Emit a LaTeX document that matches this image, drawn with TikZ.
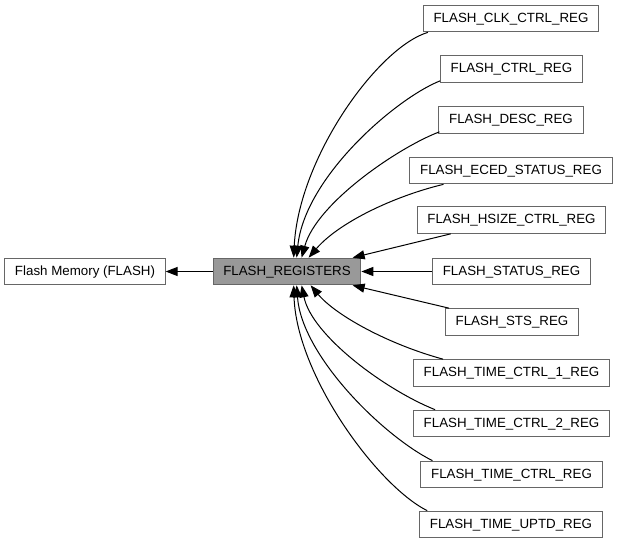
\documentclass[tikz,border=0pt]{standalone}
\usepackage{fontspec}
\setmainfont{Liberation Sans}
\usetikzlibrary{arrows.meta,calc}
\definecolor{frame}{HTML}{666666}
\definecolor{mainfill}{HTML}{999999}
\tikzset{>={Triangle[length=9pt,width=6.8pt]},line width=.75pt,
  every node/.style={font=\fontsize{10pt}{12pt}\selectfont},
  box/.style={draw=frame,fill=white,line width=.75pt,inner xsep=7.6pt,minimum height=20pt,text depth=.3ex},
  group/.style={box,fill=mainfill},
  dep/.style={->,draw=black,line width=.75pt}}
\begin{document}
\begin{tikzpicture}[x=.75pt,y=-.75pt]
\useasboundingbox(0,0)rectangle(619,544);
\node[box](fm)at(85,271.5){Flash Memory (FLASH)};
\node[group](reg)at(287,271.5){FLASH\_REGISTERS};
\node[box](clk)at(511,18.5){FLASH\_CLK\_CTRL\_REG};
\node[box](ctrl)at(511.5,69){FLASH\_CTRL\_REG};
\node[box](desc)at(511,120){FLASH\_DESC\_REG};
\node[box](eced)at(511,170.5){FLASH\_ECED\_STATUS\_REG};
\node[box](hsize)at(511.5,220){FLASH\_HSIZE\_CTRL\_REG};
\node[box](status)at(511.5,271.5){FLASH\_STATUS\_REG};
\node[box](sts)at(512,322){FLASH\_STS\_REG};
\node[box](tone)at(511.5,373){FLASH\_TIME\_CTRL\_1\_REG};
\node[box](ttwo)at(511.5,423.5){FLASH\_TIME\_CTRL\_2\_REG};
\node[box](tctrl)at(511.5,474.5){FLASH\_TIME\_CTRL\_REG};
\node[box](uptd)at(511,524.5){FLASH\_TIME\_UPTD\_REG};
\draw[dep](reg)--(fm);
\draw[dep]($(clk.south west)+(5,0)$)..controls +(-50,15) and +(5,-100)..($(reg.north west)+(81,0)$);
\draw[dep]($(ctrl.south west)+(0,-2)$)..controls +(-45,18) and +(8,-80)..($(reg.north west)+(84,0)$);
\draw[dep]($(desc.south west)+(1,-2)$)..controls +(-40,15) and +(15,-55)..($(reg.north west)+(89,0)$);
\draw[dep]($(eced.south west)+(34,0)$)..controls +(-50,12) and +(30,-35)..($(reg.north west)+(96,0)$);
\draw[dep]($(hsize.south west)+(34,0)$)--($(reg.north west)+(140,0)$);
\draw[dep](status)--(reg);
\draw[dep]($(sts.north west)+(4,0)$)--($(reg.south west)+(140,0)$);
\draw[dep]($(tone.north west)+(30,0)$)..controls +(-55,-15) and +(25,30)..($(reg.south west)+(98,0)$);
\draw[dep]($(ttwo.north west)+(22,0)$)..controls +(-50,-20) and +(10,50)..($(reg.south west)+(89,0)$);
\draw[dep]($(tctrl.north west)+(12,0)$)..controls +(-50,-25) and +(5,70)..($(reg.south west)+(84,0)$);
\draw[dep]($(uptd.north west)+(8,0)$)..controls +(-50,-25) and +(3,90)..($(reg.south west)+(81,0)$);
\end{tikzpicture}
\end{document}
